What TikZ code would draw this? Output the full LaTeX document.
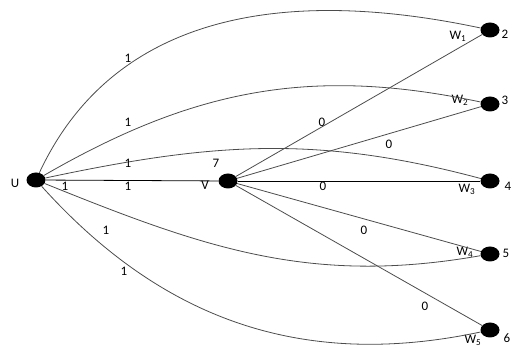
\documentclass[tikz,border=0pt]{standalone}
\usepackage{fontspec}
\setmainfont{Carlito}
\usetikzlibrary{shapes.geometric}
\begin{document}
\begin{tikzpicture}[x=1pt,y=-1pt,
  dot/.style={ellipse,fill=black,minimum width=19pt,minimum height=15pt,inner sep=0pt},
  edge/.style={draw=black!70,line width=0.8pt},
  lbl/.style={font=\fontsize{13}{15}\selectfont,inner sep=0pt,text=black}]
\useasboundingbox (0,0) rectangle (515,347);
\node[dot] (U) at (36,180) {};
\node[dot] (V) at (228,181) {};
\node[dot] (n2) at (490,30) {};
\node[dot] (n3) at (490,104) {};
\node[dot] (n4) at (490,181) {};
\node[dot] (n5) at (490,254) {};
\node[dot] (n6) at (490,330) {};
% node labels
\node[lbl] (lU) at (15,183) {U};
\node[lbl] (lV) at (205,185) {V};
\node[lbl] (l7) at (216,163) {7};
\node[lbl] (l2) at (505,34) {2};
\node[lbl] (l3) at (505,100) {3};
\node[lbl] (l4) at (508,186) {4};
\node[lbl] (l5) at (506,253) {5};
\node[lbl] (l6) at (507,338) {6};
\node[lbl] (w1) at (458,36) {W\textsubscript{1}};
\node[lbl] (w2) at (460,100) {W\textsubscript{2}};
\node[lbl] (w3) at (467,189) {W\textsubscript{3}};
\node[lbl] (w4) at (465,252) {W\textsubscript{4}};
\node[lbl] (w5) at (473,340) {W\textsubscript{5}};
% edges from U
\draw[edge] (U) to[out=65,in=168,out distance=170pt,in distance=210pt] (n2);
\draw[edge] (U) to[out=30,in=168] (n3);
\draw[edge] (U) to[out=12,in=165] (n4);
\draw[edge,black] (U) -- (V);
\draw[edge] (U) to[out=-22,in=190] (n5);
\draw[edge] (U) to[out=-48,in=192] (n6);
% edges from V
\draw[edge] (V) -- (n2);
\draw[edge] (V) -- (n3);
\draw[edge,black] (V) -- (n4);
\draw[edge] (V) -- (n5);
\draw[edge] (V) -- (n6);
% edge labels
\node[lbl] (e1) at (128,58) {1};
\node[lbl] (e2) at (128,122) {1};
\node[lbl] (e3) at (128,163) {1};
\node[lbl] (e4) at (65,186) {1};
\node[lbl] (e5) at (128,186) {1};
\node[lbl] (e6) at (106,230) {1};
\node[lbl] (e7) at (124,271) {1};
\node[lbl] (f1) at (322,122) {0};
\node[lbl] (f2) at (389,144) {0};
\node[lbl] (f3) at (323,186) {0};
\node[lbl] (f4) at (364,230) {0};
\node[lbl] (f5) at (425,306) {0};
\end{tikzpicture}
\end{document}
